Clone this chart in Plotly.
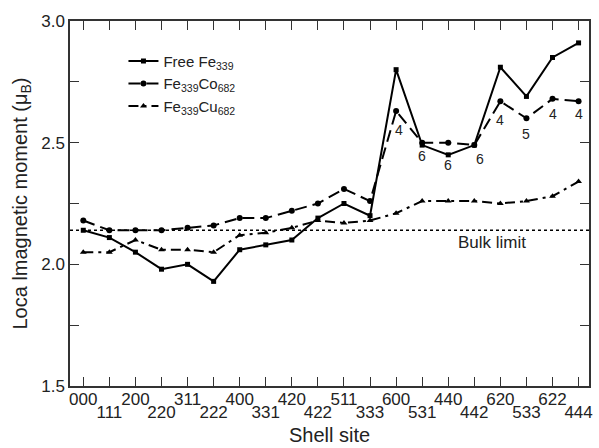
import plotly.graph_objects as go

# Shell sites along the cluster radius
shell_sites = ["000", "111", "200", "220", "311", "222", "400", "331", "420", "422",
               "511", "333", "600", "531", "440", "442", "620", "533", "622", "444"]

# Local magnetic moments (mu_B) per shell
free_fe = [2.14, 2.11, 2.05, 1.98, 2.00, 1.93, 2.06, 2.08, 2.10, 2.19,
           2.25, 2.20, 2.80, 2.49, 2.45, 2.49, 2.81, 2.69, 2.85, 2.91]
fe_co = [2.18, 2.14, 2.14, 2.14, 2.15, 2.16, 2.19, 2.19, 2.22, 2.25,
         2.31, 2.26, 2.63, 2.50, 2.50, 2.49, 2.67, 2.60, 2.68, 2.67]
fe_cu = [2.05, 2.05, 2.10, 2.06, 2.06, 2.05, 2.12, 2.13, 2.15, 2.18,
         2.17, 2.18, 2.21, 2.26, 2.26, 2.26, 2.25, 2.26, 2.28, 2.34]

bulk_limit = 2.14

# Coordination numbers written beside the outer-shell Fe339Co682 points
coord_idx = [12, 13, 14, 15, 16, 17, 18, 19]
coord_text = ["4", "6", "6", "6", "4", "5", "4", "4"]
coord_y = [2.553, 2.447, 2.407, 2.433, 2.594, 2.537, 2.619, 2.619]
coord_dx = [0.1, 0.0, 0.0, 0.2, 0.0, 0.0, 0.0, 0.0]

x = list(range(len(shell_sites)))
font = "Liberation Sans, Arial, sans-serif"
ink = "#222222"

fig = go.Figure()
fig.add_trace(go.Scatter(
    x=x, y=free_fe, name="Free Fe<sub>339</sub>", mode="lines+markers",
    line=dict(color="black", width=2, dash="solid"),
    marker=dict(symbol="square", size=5, color="black")))
fig.add_trace(go.Scatter(
    x=x, y=fe_co, name="Fe<sub>339</sub>Co<sub>682</sub>", mode="lines+markers",
    line=dict(color="black", width=2, dash="12px,6px"),
    marker=dict(symbol="circle", size=6, color="black")))
fig.add_trace(go.Scatter(
    x=x, y=fe_cu, name="Fe<sub>339</sub>Cu<sub>682</sub>", mode="lines+markers",
    line=dict(color="black", width=2, dash="10px,5px,3px,5px"),
    marker=dict(symbol="triangle-up", size=6, color="black")))

# Bulk magnetic moment reference
fig.add_shape(type="line", xref="paper", x0=0, x1=1, yref="y",
              y0=bulk_limit, y1=bulk_limit,
              line=dict(color="black", width=1.5, dash="dot"))
fig.add_annotation(x=15.68, y=2.09, text="Bulk limit", showarrow=False,
                   font=dict(family=font, size=17, color=ink))

for i, t, yy, dx in zip(coord_idx, coord_text, coord_y, coord_dx):
    fig.add_annotation(x=i + dx, y=yy, text=t, showarrow=False,
                       font=dict(family=font, size=14, color=ink))

# x-axis title below the two rows of shell labels
fig.add_annotation(xref="paper", yref="paper", x=0.5, y=-0.169, yanchor="bottom",
                   text="Shell site", showarrow=False,
                   font=dict(family=font, size=20, color=ink))

# shell labels alternate between an upper and a lower row
even_vals = [i for i in x if i % 2 == 0]
even_text = [shell_sites[i] for i in even_vals]
odd_vals = [i for i in x if i % 2 == 1]
odd_text = [shell_sites[i] for i in odd_vals]

fig.update_layout(
    width=599, height=448,
    margin=dict(l=70, r=10, t=21, b=62),
    paper_bgcolor="white", plot_bgcolor="white",
    font=dict(family=font, size=17, color=ink),
    showlegend=True,
    legend=dict(x=0.103, y=0.935, xanchor="left", yanchor="top",
                bgcolor="rgba(0,0,0,0)", font=dict(size=15, color=ink),
                itemwidth=30, tracegroupgap=0),
    xaxis=dict(range=[-0.51, 19.40], tickmode="array", tickvals=even_vals,
               ticktext=even_text, ticks="inside", ticklen=9, tickwidth=1,
               tickcolor="#333",
               minor=dict(tickvals=odd_vals, ticks="inside", ticklen=9,
                          tickwidth=1, tickcolor="#333"),
               showline=True, linecolor="#333", linewidth=1.5,
               mirror="ticks", showgrid=False, zeroline=False, automargin=False,
               tickfont=dict(size=17), ticklabelstandoff=-3),
    xaxis2=dict(range=[-0.51, 19.40], overlaying="x", side="bottom",
                tickmode="array", tickvals=odd_vals, ticktext=odd_text,
                ticks="", showline=False, showgrid=False, zeroline=False,
                automargin=False, tickfont=dict(size=17), ticklabelstandoff=14),
    yaxis=dict(range=[1.5, 3.0], tickmode="array", tickvals=[1.5, 2.0, 2.5, 3.0],
               ticktext=["1.5", "2.0", "2.5", "3.0"], ticks="inside", ticklen=9,
               tickwidth=1, tickcolor="#333",
               minor=dict(tickvals=[1.75, 2.25, 2.75], ticks="inside", ticklen=9,
                          tickcolor="#333"),
               showline=True, linecolor="#333", linewidth=1.5, mirror="ticks",
               showgrid=False, zeroline=False, automargin=False,
               tickfont=dict(size=17),
               title=dict(text="Loca lmagnetic moment (μ<sub>B</sub>)",
                          font=dict(size=20), standoff=8)),
)

# invisible trace anchoring the second row of shell labels
fig.add_trace(go.Scatter(x=[0], y=[None], xaxis="x2", showlegend=False,
                         hoverinfo="skip"))

fig.write_html("out.html")
